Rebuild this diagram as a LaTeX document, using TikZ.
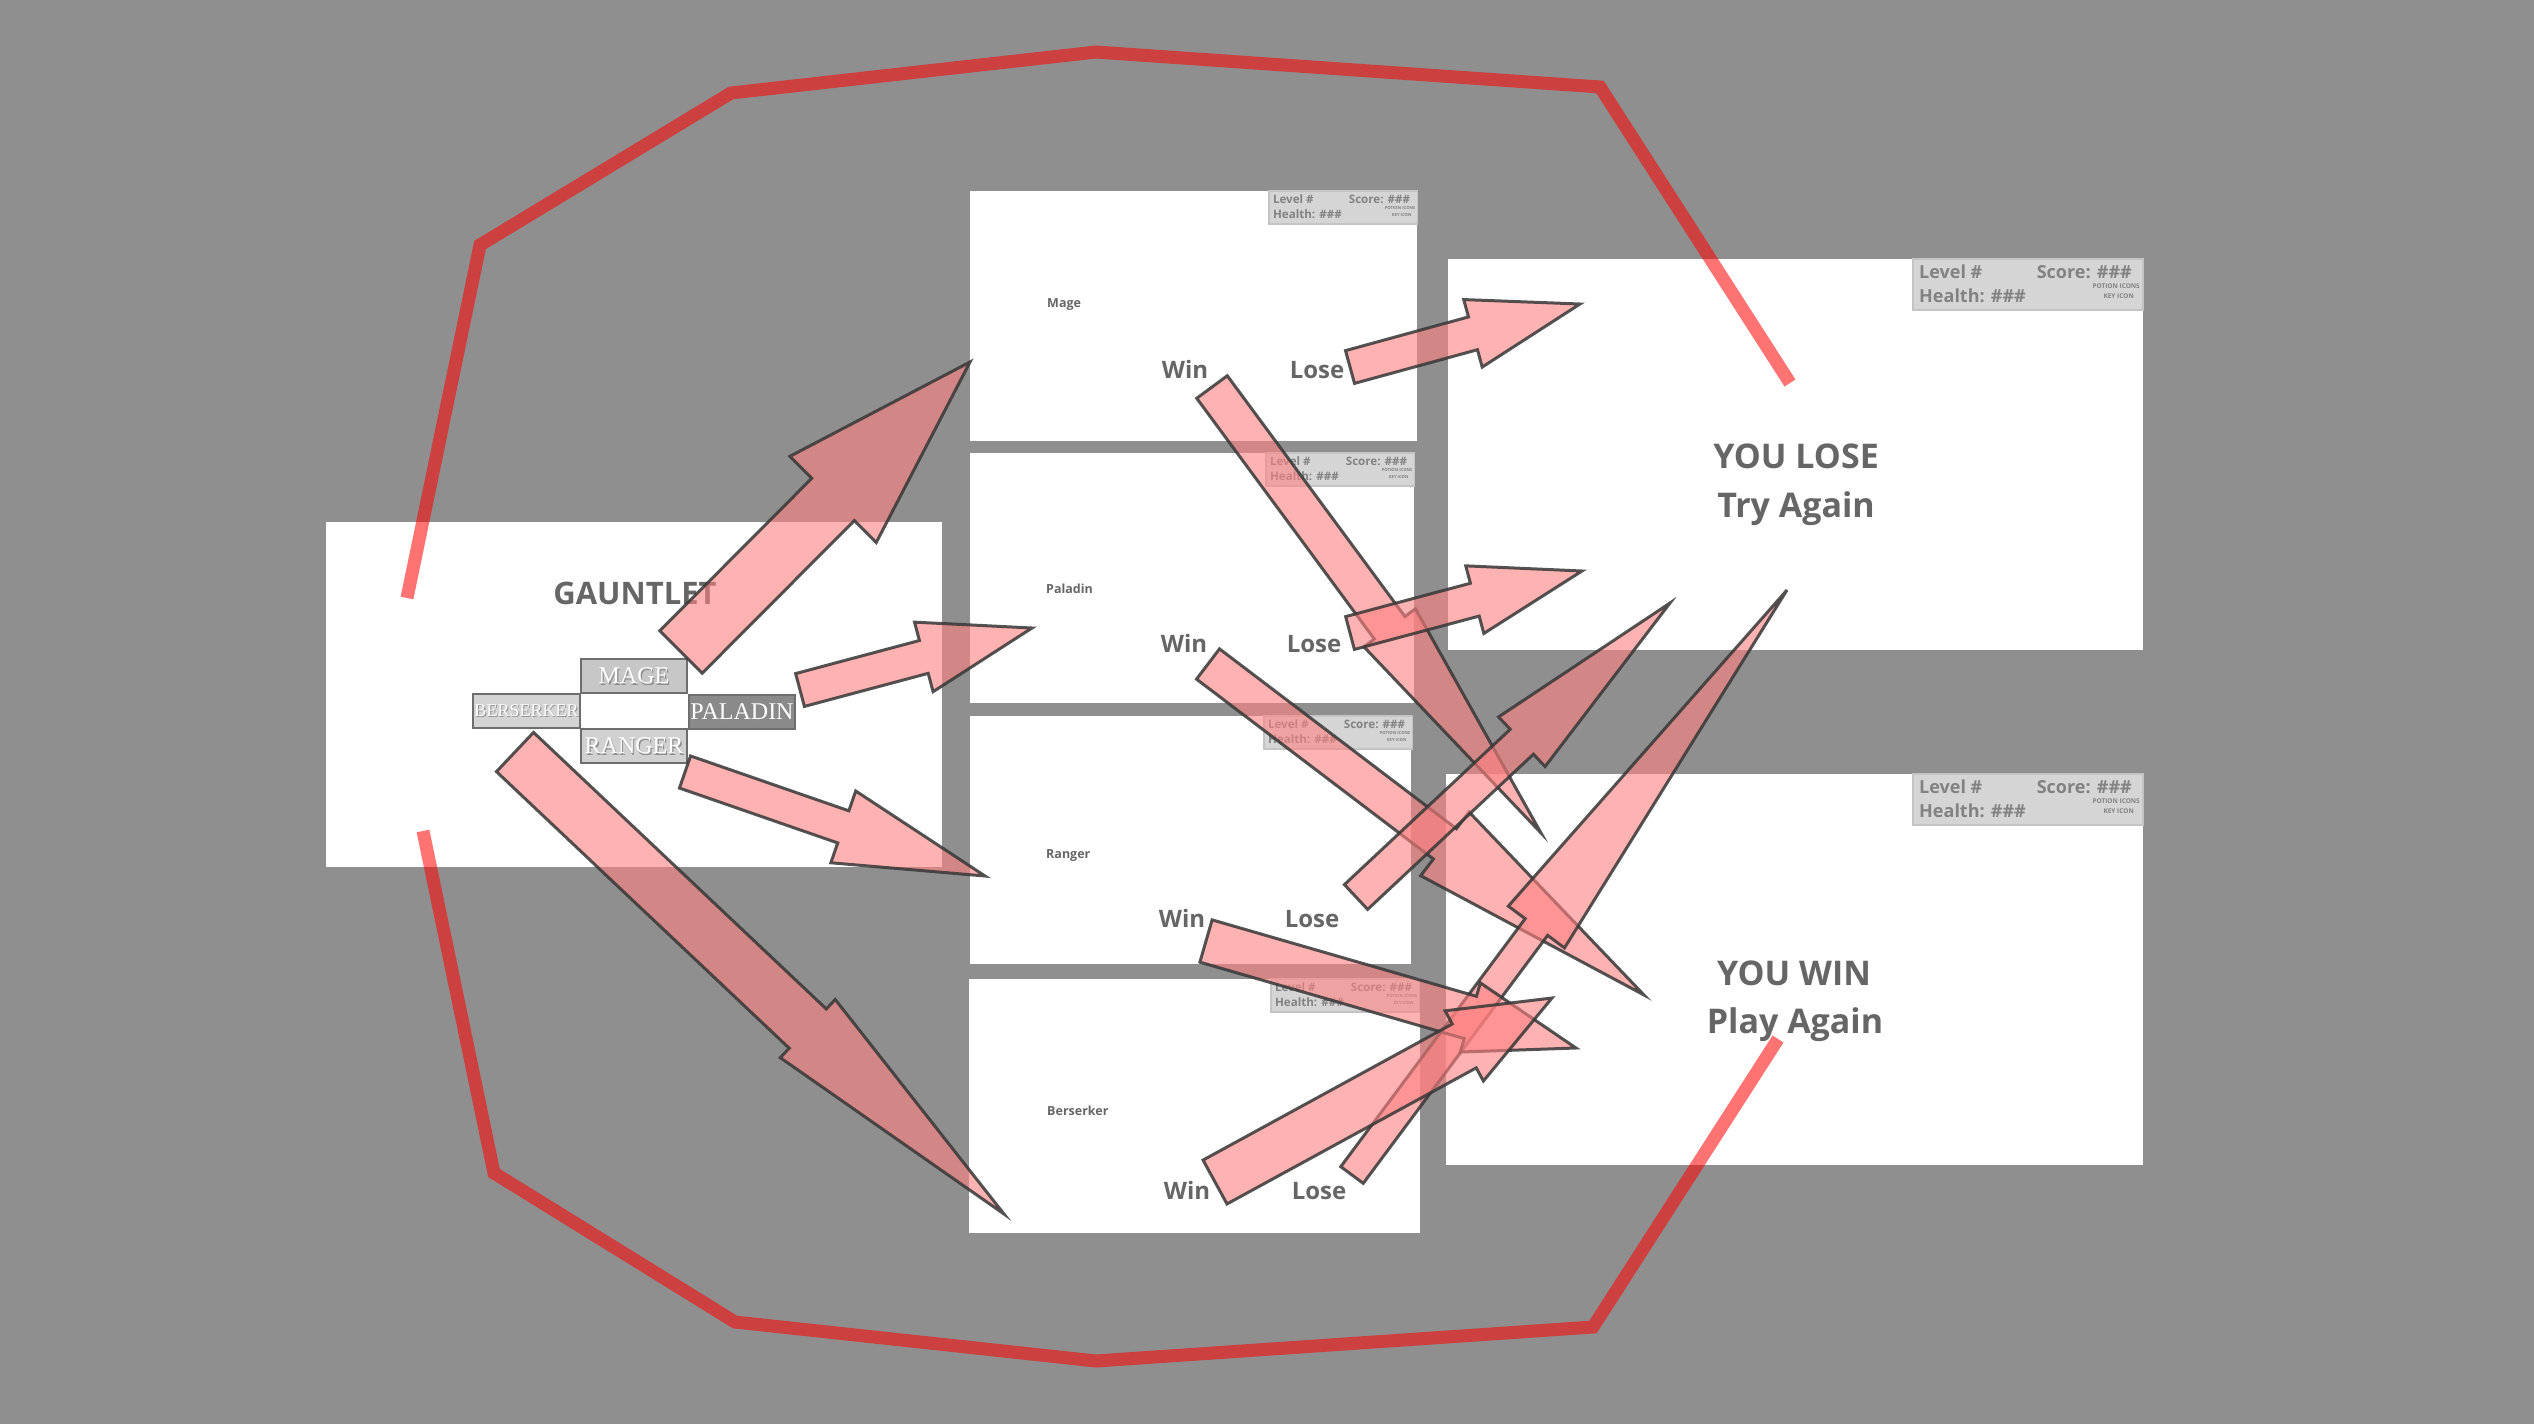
\documentclass[tikz,border=0pt]{standalone}
\usepackage{fontspec}
\setmainfont{Open Sans}
\newfontfamily\classfont{Liberation Serif}
\usetikzlibrary{calc}

\definecolor{bg}{RGB}{143,143,143}
\definecolor{ink}{RGB}{102,102,102}
\definecolor{hudfill}{RGB}{213,213,213}
\definecolor{hudline}{RGB}{196,196,196}
\definecolor{hudink}{RGB}{130,130,130}
\definecolor{pinkfill}{RGB}{255,128,128}
\definecolor{edge}{RGB}{55,55,55}
\definecolor{loopred}{RGB}{255,0,0}
\definecolor{classedge}{RGB}{110,110,110}

% status bar in the top right corner of a screen: #1,#2 top-left corner, #3 scale, #4 name prefix
\newcommand{\hudpanel}[4]{%
  \begin{scope}[shift={(#1,#2)}, scale=#3, transform shape]
    \fill[hudfill, draw=hudline, line width=1.5pt] (0,0) rectangle (230,51);
    \node[hudtxt, anchor=base west] (#4-level) at (6,19) {Level \#};
    \node[hudtxt, anchor=base east] (#4-score) at (219,19) {Score: \#\#\#};
    \node[hudtxt, anchor=base west] (#4-health) at (6,43) {Health: \#\#\#};
    \node[hudtiny] (#4-potion) at (227,29) {POTION ICONS};
    \node[hudtiny] (#4-key) at (221,39) {KEY ICON};
  \end{scope}}

% block arrow: #1 tail, #2 tip, #3 shaft half width, #4 head half width, #5 head length
\newcommand{\blockarrow}[5]{%
  \coordinate (#1-h) at ($(#2)!#5!(#1)$);
  \draw[arrowbody]
    ($(#1)!#3!90:(#2)$) -- ($(#1-h)!#3!90:(#2)$) -- ($(#1-h)!#4!90:(#2)$) --
    (#2) --
    ($(#1-h)!#4!-90:(#2)$) -- ($(#1-h)!#3!-90:(#2)$) -- ($(#1)!#3!-90:(#2)$) -- cycle;}

\begin{document}
\begin{tikzpicture}[x=1pt, y=-1pt,
  screen/.style={fill=white, draw=none, inner sep=0pt, outer sep=0pt, anchor=north west},
  title/.style={font=\bfseries\fontsize{31}{36}\selectfont, text=ink, inner sep=0pt},
  big/.style={font=\bfseries\fontsize{34}{40}\selectfont, text=ink, inner sep=0pt, anchor=base},
  choice/.style={font=\bfseries\fontsize{24}{28}\selectfont, text=ink, inner sep=0pt, anchor=base},
  tag/.style={font=\bfseries\fontsize{12.5}{14}\selectfont, text=ink, inner sep=0pt, anchor=base west},
  hudtxt/.style={font=\bfseries\fontsize{18}{20}\selectfont, text=hudink, inner sep=0pt},
  hudtiny/.style={font=\bfseries\fontsize{6.5}{7}\selectfont, text=hudink, inner sep=0pt, anchor=base east},
  classbox/.style={draw=classedge, line width=1.5pt, inner sep=0pt, outer sep=0pt, anchor=north west},
  classtxt/.style={font=\classfont\fontsize{24}{26}\selectfont, text=white, inner sep=0pt},
  classshadow/.style={font=\classfont\fontsize{24}{26}\selectfont, text=black!45, inner sep=0pt},
  arrowbody/.style={fill=pinkfill, fill opacity=0.6, draw=edge, draw opacity=0.85, line width=3pt, line join=miter},
  loopline/.style={draw=loopred, draw opacity=0.55, line width=13pt, line join=miter}
]
\useasboundingbox (0,0) rectangle (2534,1424);
\fill[bg] (0,0) rectangle (2534,1424);

% ---------- screens ----------
\node[screen, minimum width=616pt, minimum height=345pt] (gauntlet) at (326,522) {};
\node[screen, minimum width=447pt, minimum height=250pt] (mage) at (970,191) {};
\node[screen, minimum width=444pt, minimum height=250pt] (paladin) at (970,453) {};
\node[screen, minimum width=441pt, minimum height=248pt] (ranger) at (970,716) {};
\node[screen, minimum width=451pt, minimum height=254pt] (berserker) at (969,979) {};
\node[screen, minimum width=695pt, minimum height=391pt] (lose) at (1448,259) {};
\node[screen, minimum width=697pt, minimum height=391pt] (win) at (1446,774) {};

% ---------- status bars ----------
\hudpanel{1269}{191}{0.645}{hm}
\hudpanel{1266}{453}{0.645}{hp}
\hudpanel{1264}{716}{0.645}{hr}
\hudpanel{1271}{979}{0.645}{hb}
\hudpanel{1913}{259}{1}{hl}
\hudpanel{1913}{774}{1}{hw}

% ---------- title screen ----------
\node[title] (t-gauntlet) at (635,593) {GAUNTLET};
\node[classbox, fill=black!22, minimum width=106pt, minimum height=34pt] (cMage) at (581,659) {};
\node[classbox, fill=black!17, minimum width=107pt, minimum height=34pt] (cBerserker) at (473,694) {};
\node[classbox, fill=black!46, minimum width=106pt, minimum height=34pt] (cPaladin) at (689,695) {};
\node[classbox, fill=black!18, minimum width=106pt, minimum height=34pt] (cRanger) at (581,729) {};
\node[classshadow] (sMage) at ($(cMage.center)+(1.2,1.2)$) {MAGE};
\node[classtxt] (lMage) at (cMage.center) {MAGE};
\node[classshadow, font=\classfont\fontsize{18}{20}\selectfont] (sBerserker) at ($(cBerserker.center)+(1,1)$) {BERSERKER};
\node[classtxt, font=\classfont\fontsize{18}{20}\selectfont] (lBerserker) at (cBerserker.center) {BERSERKER};
\node[classshadow] (sPaladin) at ($(cPaladin.center)+(1.2,1.2)$) {PALADIN};
\node[classtxt] (lPaladin) at (cPaladin.center) {PALADIN};
\node[classshadow] (sRanger) at ($(cRanger.center)+(1.2,1.2)$) {RANGER};
\node[classtxt] (lRanger) at (cRanger.center) {RANGER};

% ---------- level screens ----------
\node[tag] (n-mage) at (1047,307) {Mage};
\node[choice] (w-mage) at (1185,378) {Win};
\node[choice] (l-mage) at (1317,378) {Lose};
\node[tag] (n-paladin) at (1046,593) {Paladin};
\node[choice] (w-paladin) at (1184,652) {Win};
\node[choice] (l-paladin) at (1314,652) {Lose};
\node[tag] (n-ranger) at (1046,858) {Ranger};
\node[choice] (w-ranger) at (1182,927) {Win};
\node[choice] (l-ranger) at (1312,927) {Lose};
\node[tag] (n-berserker) at (1047,1115) {Berserker};
\node[choice] (w-berserker) at (1187,1199) {Win};
\node[choice] (l-berserker) at (1319,1199) {Lose};

% ---------- end screens ----------
\node[big] (t-youlose) at (1796,468) {YOU LOSE};
\node[big] (t-tryagain) at (1796,517) {Try Again};
\node[big] (t-youwin) at (1794,985) {YOU WIN};
\node[big] (t-playagain) at (1795,1033) {Play Again};

% ---------- flow arrows ----------
\coordinate (a1t) at (681,652);   \coordinate (a1p) at (970,362);
\coordinate (a2t) at (800,690);   \coordinate (a2p) at (1032,628);
\coordinate (a3t) at (685,772);   \coordinate (a3p) at (985,876);
\coordinate (a4t) at (515,752);   \coordinate (a4p) at (1004,1214);
\coordinate (a5t) at (1350,367);  \coordinate (a5p) at (1580,304);
\coordinate (a6t) at (1350,633);  \coordinate (a6p) at (1582,571);
\coordinate (a7t) at (1212,387);  \coordinate (a7p) at (1541,833);
\coordinate (a8t) at (1208,664);  \coordinate (a8p) at (1644,995);
\coordinate (a9t) at (1356,897);  \coordinate (a9p) at (1670,603);
\coordinate (a10t) at (1206,941); \coordinate (a10p) at (1576,1048);
\coordinate (a11t) at (1215,1182);\coordinate (a11p) at (1552,998);
\coordinate (a12t) at (1352,1175);\coordinate (a12p) at (1787,590);

\blockarrow{a1t}{a1p}{30pt}{61pt}{194pt}
\blockarrow{a2t}{a2p}{17pt}{36pt}{112pt}
\blockarrow{a3t}{a3p}{17pt}{38pt}{150pt}
\blockarrow{a4t}{a4p}{27pt}{40pt}{270pt}
\blockarrow{a7t}{a7p}{19pt}{32pt}{255pt}
\blockarrow{a8t}{a8p}{19pt}{40pt}{250pt}
\blockarrow{a12t}{a12p}{14pt}{35pt}{420pt}
\blockarrow{a9t}{a9p}{17pt}{34pt}{203pt}
\blockarrow{a10t}{a10p}{22pt}{36pt}{110pt}
\blockarrow{a11t}{a11p}{25pt}{40pt}{100pt}
\blockarrow{a5t}{a5p}{17pt}{35pt}{111pt}
\blockarrow{a6t}{a6p}{17pt}{35pt}{111pt}

% ---------- replay loop ----------
\draw[loopline] (407,598) -- (480,245) -- (731,93) -- (1096,52) -- (1600,87) -- (1790,383);
\draw[loopline] (423,831) -- (494,1173) -- (735,1322) -- (1096,1361) -- (1593,1327) -- (1778,1039);
\end{tikzpicture}
\end{document}
